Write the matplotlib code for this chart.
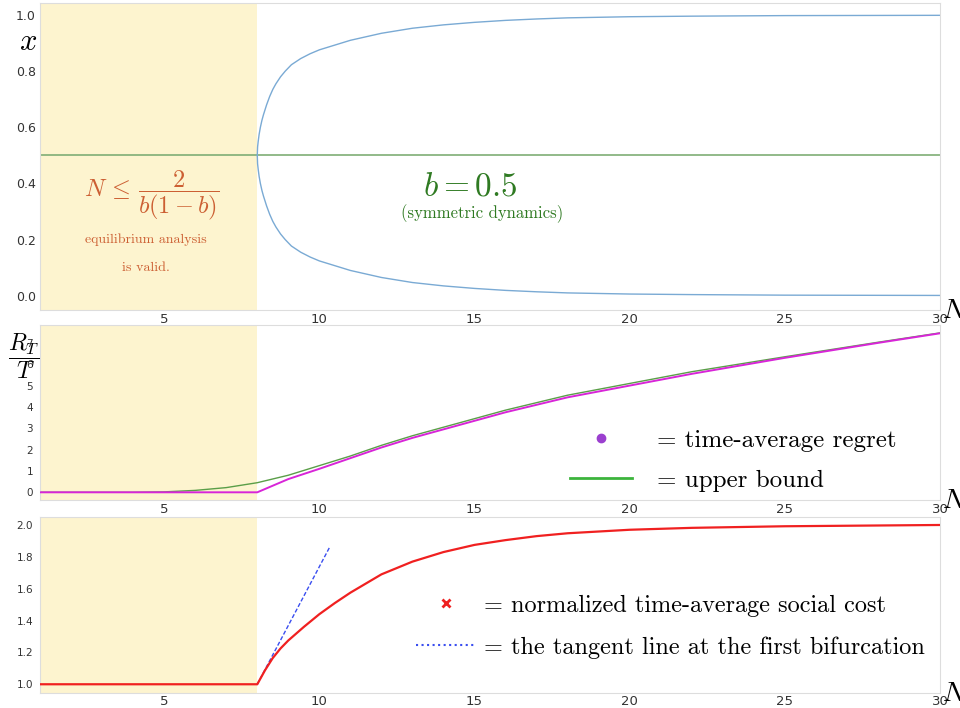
import matplotlib
matplotlib.use("Agg")
import matplotlib.pyplot as plt
from matplotlib.lines import Line2D

plt.rcParams['mathtext.fontset'] = 'cm'

# ---- data ----
# top panel: equilibria x vs N
n_fixed = [1, 30]
x_fixed = [0.5, 0.5]
n_branch = [8.0, 8.01, 8.03, 8.06, 8.1, 8.15, 8.2, 8.3, 8.4, 8.5, 8.6, 8.75, 8.9, 9.1,
            9.4, 9.7, 10.0, 10.5, 11.0, 12.0, 13.0, 14.0, 15.0, 16.0, 17.0, 18.0, 20.0,
            22.0, 25.0, 30.0]
x_upper = [0.5, 0.53, 0.55, 0.575, 0.6, 0.625, 0.645, 0.68, 0.71, 0.735, 0.755, 0.78,
           0.80, 0.823, 0.845, 0.862, 0.876, 0.893, 0.91, 0.935, 0.953, 0.965, 0.974,
           0.981, 0.986, 0.99, 0.994, 0.996, 0.998, 0.999]
x_lower = [0.5, 0.47, 0.45, 0.425, 0.4, 0.375, 0.355, 0.32, 0.29, 0.265, 0.245, 0.22,
           0.20, 0.177, 0.155, 0.138, 0.124, 0.107, 0.09, 0.065, 0.047, 0.035, 0.026,
           0.019, 0.014, 0.01, 0.006, 0.004, 0.002, 0.001]

# middle panel: time-average regret and its upper bound
n_regret = [1, 2, 3, 4, 5, 6, 7, 8, 9, 10, 11, 12, 13, 14, 15, 16, 18, 20, 22, 25, 28, 30]
regret = [0, 0, 0, 0, 0, 0, 0, 0, 0.62, 1.1, 1.6, 2.1, 2.55, 2.95, 3.35, 3.75, 4.45,
          5.0, 5.55, 6.3, 7.0, 7.45]
bound = [0, 0, 0, 0.0, 0.02, 0.09, 0.22, 0.45, 0.8, 1.25, 1.7, 2.2, 2.65, 3.05, 3.45,
         3.85, 4.55, 5.1, 5.65, 6.35, 7.03, 7.47]

# bottom panel: normalized social cost and tangent at the bifurcation
n_cost = [1, 8, 8.25, 8.5, 8.75, 9, 9.5, 10, 10.5, 11, 12, 13, 14, 15, 16, 17, 18, 20,
          22, 25, 30]
cost = [1.0, 1.0, 1.088, 1.165, 1.225, 1.275, 1.36, 1.44, 1.51, 1.575, 1.69, 1.77, 1.83,
        1.875, 1.905, 1.93, 1.948, 1.97, 1.982, 1.992, 2.0]
n_tangent = [8.0, 10.33]
tangent = [1.0, 1.86]

valid_region = (1, 8)
xticks = [5, 10, 15, 20, 25, 30]

fig = plt.figure(figsize=(9.6, 7.08), dpi=100)
ax1 = fig.add_axes([0.0417, 0.5621, 0.9375, 0.4337])
ax2 = fig.add_axes([0.0417, 0.2938, 0.9375, 0.2472])
ax3 = fig.add_axes([0.0417, 0.0216, 0.9375, 0.2486])

for ax in (ax1, ax2, ax3):
    ax.axvspan(*valid_region, color='#fdf4cf', zorder=0, lw=0)
    ax.set_xlim(1, 30)
    ax.set_xticks(xticks)
    ax.tick_params(axis='x', length=0, colors='#333333', labelsize=9.5, pad=2)
    ax.tick_params(axis='y', length=0, colors='#333333')
    for s in ax.spines.values():
        s.set_color('#dddddd')
    ax.text(1.002, 0.0, '$N$', transform=ax.transAxes, fontsize=20, ha='left', va='center',
            clip_on=False)

# top panel
ax1.plot(n_fixed, x_fixed, color='#7fae76', lw=1.2)
ax1.plot(n_branch, x_upper, color='#7aaad4', lw=1.0)
ax1.plot(n_branch, x_lower, color='#7aaad4', lw=1.0)
ax1.set_ylim(-0.051, 1.043)
ax1.set_yticks([0.0, 0.2, 0.4, 0.6, 0.8, 1.0])
ax1.set_yticklabels(['0.0', '0.2', '0.4', '0.6', '0.8', '1.0'])
ax1.tick_params(axis='y', labelsize=9, pad=3)
ax1.text(4.6, 0.36, r'$N\,\leq\,\dfrac{2}{b(1-b)}$', color='#cc5f33', fontsize=17.5,
         ha='center', va='center')
ax1.text(4.4, 0.2, 'equilibrium analysis', color='#cc5f33', fontsize=10,
         family='cmr10', ha='center', va='center')
ax1.text(4.4, 0.1, 'is valid.', color='#cc5f33', fontsize=10,
         family='cmr10', ha='center', va='center')
ax1.text(14.88, 0.39, '$b = 0.5$', color='#2f7a22', fontsize=24, ha='center', va='center')
ax1.text(15.25, 0.292, '(symmetric dynamics)', color='#2f7a22', fontsize=12,
         family='cmr10', ha='center', va='center')
fig.text(28 / 960, 1 - 42 / 708, '$x$', fontsize=22, ha='center', va='center')

# middle panel
ax2.plot(n_regret, bound, color='#5a9e48', lw=1.0, zorder=2)
ax2.plot(n_regret, regret, color='#d825d8', lw=1.4, zorder=3)
ax2.set_ylim(-0.36, 7.84)
ax2.set_yticks(range(8))
ax2.tick_params(axis='y', labelsize=7.5, pad=5)
fig.text(24 / 960, 1 - 356 / 708, r'$\dfrac{R_T}{T}$', fontsize=17, ha='center', va='center')
h_regret = Line2D([], [], ls='none', marker='o', color='#9b3fcf', markersize=6)
h_bound = Line2D([], [], color='#3cb43c', lw=2)
ax2.legend([h_regret, h_bound], ['= time-average regret', '= upper bound'],
           loc='center', bbox_to_anchor=(0.77, 0.225), frameon=False,
           prop={'family': 'cmr10', 'size': 18}, handlelength=2.5, handletextpad=1.0,
           labelspacing=0.72, alignment='left')

# bottom panel
ax3.plot(n_cost, cost, color='#f02020', lw=1.6, zorder=3)
ax3.plot(n_tangent, tangent, color='#3a4ef0', lw=1.0, ls=(0, (3, 1.5)), zorder=2)
ax3.set_ylim(0.947, 2.052)
ax3.set_yticks([1.0, 1.2, 1.4, 1.6, 1.8, 2.0])
ax3.set_yticklabels(['1.0', '1.2', '1.4', '1.6', '1.8', '2.0'])
ax3.tick_params(axis='y', labelsize=7.5, pad=5)
h_cost = Line2D([], [], ls='none', marker='x', color='#ee2020', markersize=6, mew=2)
h_tan = Line2D([], [], color='#3a4ef0', lw=1.5, ls=':')
ax3.legend([h_cost, h_tan], ['= normalized time-average social cost',
                             '= the tangent line at the first bifurcation'],
           loc='center', bbox_to_anchor=(0.70, 0.375), frameon=False,
           prop={'family': 'cmr10', 'size': 17.5}, handlelength=2.5, handletextpad=0.3,
           labelspacing=0.8, alignment='left')

fig.savefig('out.png', dpi=100)
